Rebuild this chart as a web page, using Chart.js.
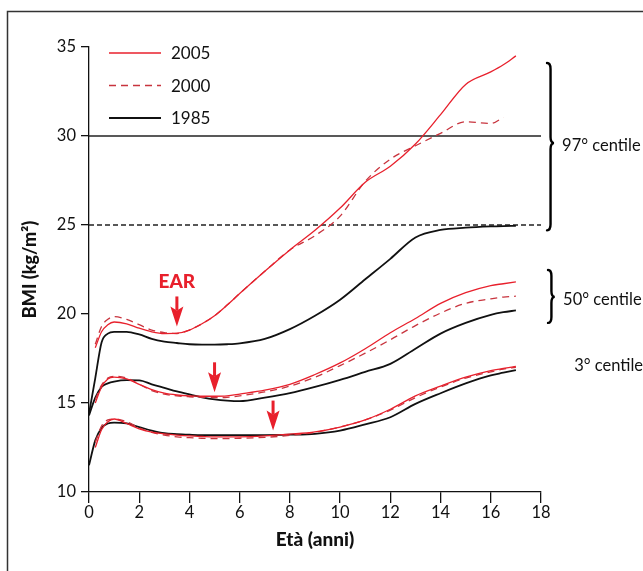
<!DOCTYPE html>
<html><head><meta charset="utf-8">
<script src="https://cdn.jsdelivr.net/npm/chart.js@4.4.0/dist/chart.umd.min.js"></script>
<style>html,body{margin:0;padding:0;background:#fff;overflow:hidden}</style>
</head><body>
<canvas id="c" width="643" height="571" style="display:block;width:643px;height:571px"></canvas>
<script>
// ---- data ----
const ages = [0, 0.25, 0.5, 0.75, 1, 1.5, 2, 2.5, 3, 3.5, 4, 4.5, 5, 5.5, 6, 7, 8, 9, 10, 11, 12, 13, 14, 15, 16, 16.5, 17];

const p97_2005 = [null, 18.1, 19.0, 19.4, 19.55, 19.45, 19.2, 19.0, 18.9, 18.92, 19.1, 19.45, 19.9, 20.5, 21.15, 22.4, 23.6, 24.7, 25.95, 27.4, 28.3, 29.55, 31.2, 32.9, 33.6, 34.0, 34.5];
const p97_2000 = [null, 18.3, 19.3, 19.7, 19.85, 19.7, 19.4, 19.1, 18.95, 18.9, 19.1, 19.45, 19.9, 20.5, 21.15, 22.4, 23.6, 24.4, 25.5, 27.45, 28.7, 29.45, 30.15, 30.8, 30.7, 31.05, null];
const p97_1985 = [14.4, 16.4, 18.4, 18.9, 19.0, 19.0, 18.85, 18.6, 18.45, 18.37, 18.3, 18.28, 18.28, 18.3, 18.35, 18.6, 19.15, 19.9, 20.8, 21.95, 23.1, 24.3, 24.72, 24.85, 24.92, 24.94, 24.95];

const p50_2005 = [null, 15.0, 15.9, 16.35, 16.45, 16.35, 16.05, 15.75, 15.55, 15.45, 15.4, 15.38, 15.38, 15.4, 15.5, 15.72, 16.05, 16.6, 17.25, 18.05, 18.95, 19.75, 20.6, 21.2, 21.6, 21.7, 21.8];
const p50_2000 = [null, 15.2, 16.0, 16.4, 16.5, 16.4, 16.05, 15.7, 15.5, 15.4, 15.35, 15.32, 15.3, 15.32, 15.4, 15.62, 15.95, 16.45, 17.1, 17.8, 18.55, 19.35, 20.05, 20.6, 20.85, 20.95, 21.0];
const p50_1985 = [14.3, 15.3, 15.9, 16.1, 16.2, 16.28, 16.27, 16.05, 15.85, 15.65, 15.48, 15.32, 15.2, 15.13, 15.1, 15.3, 15.55, 15.9, 16.3, 16.75, 17.2, 18.05, 18.9, 19.5, 19.95, 20.1, 20.2];

const p3_2005 = [null, 12.5, 13.5, 13.95, 14.1, 13.85, 13.55, 13.37, 13.27, 13.2, 13.15, 13.12, 13.1, 13.1, 13.1, 13.15, 13.25, 13.38, 13.65, 14.05, 14.65, 15.4, 15.95, 16.45, 16.82, 16.95, 17.05];
const p3_2000 = [null, 12.8, 13.7, 14.05, 14.1, 13.95, 13.6, 13.35, 13.2, 13.1, 13.05, 13.02, 13.0, 13.0, 13.02, 13.07, 13.18, 13.35, 13.65, 14.05, 14.6, 15.3, 15.9, 16.4, 16.75, 16.9, 17.0];
const p3_1985 = [11.5, 12.9, 13.6, 13.85, 13.9, 13.85, 13.65, 13.45, 13.3, 13.25, 13.22, 13.2, 13.2, 13.2, 13.2, 13.2, 13.22, 13.27, 13.45, 13.8, 14.2, 14.95, 15.55, 16.1, 16.55, 16.7, 16.85];

const refSolid = 30;   // horizontal solid line
const refDashed = 25;  // horizontal dashed line
const xTicks = [0, 2, 4, 6, 8, 10, 12, 14, 16, 18];
const yTicks = [10, 15, 20, 25, 30, 35];
const legendLabels = ['2005', '2000', '1985'];
const centileLabels = ['97° centile', '50° centile', '3° centile'];
const centileAnchors = [{x: 18.84, y: 29.45}, {x: 18.88, y: 20.8}, {x: 19.32, y: 17.08}];
const braces = [{x0: 18.24, x1: 18.52, top: 34.1, mid: 29.6, bottom: 24.7}, {x0: 18.28, x1: 18.55, top: 22.47, mid: 20.96, bottom: 19.5}];
const earLabel = 'EAR';
const earAnchor = {x: 3.5, y: 21.8};
const earArrows = [{x: 3.5, y: 19.3}, {x: 5.0, y: 15.6}, {x: 7.33, y: 13.45}];

// ---- styles ----
const RED = '#e8202c', RED_D = '#c8343e', BLK = '#111111';
const FONT = 'Lato, "Noto Sans", sans-serif';
const seriesStyle = [
  {color: RED, dash: [], width: 1.3},
  {color: RED_D, dash: [7, 5], width: 1.3},
  {color: BLK, dash: [], width: 1.8}
];

function pts(arr){ return ages.map((a,i)=>({x:a, y:arr[i]})); }
function ds(arr, s){
  return {data: pts(arr), borderColor: s.color, borderDash: s.dash, borderWidth: s.width,
    pointRadius: 0, fill: false, cubicInterpolationMode: 'monotone', spanGaps: false};
}
const datasets = [
  ds(p97_2005, seriesStyle[0]), ds(p50_2005, seriesStyle[0]), ds(p3_2005, seriesStyle[0]),
  ds(p97_2000, seriesStyle[1]), ds(p50_2000, seriesStyle[1]), ds(p3_2000, seriesStyle[1]),
  ds(p97_1985, seriesStyle[2]), ds(p50_1985, seriesStyle[2]), ds(p3_1985, seriesStyle[2]),
  {data: [{x: xTicks[0], y: refSolid}, {x: xTicks[xTicks.length-1], y: refSolid}], borderColor: '#222', borderWidth: 1.3, pointRadius: 0},
  {data: [{x: xTicks[0], y: refDashed}, {x: xTicks[xTicks.length-1], y: refDashed}], borderColor: '#222', borderWidth: 1.3, borderDash: [5, 3], pointRadius: 0}
];

function brace(ctx, x0, x1, t, m, b){
  const xm = (x0 + x1) / 2, r = Math.min(6, (m - t) / 4);
  ctx.beginPath();
  ctx.moveTo(x0, t);
  ctx.quadraticCurveTo(xm, t, xm, t + r);
  ctx.lineTo(xm, m - r);
  ctx.quadraticCurveTo(xm, m, x1, m);
  ctx.quadraticCurveTo(xm, m, xm, m + r);
  ctx.lineTo(xm, b - r);
  ctx.quadraticCurveTo(xm, b, x0, b);
  ctx.stroke();
}
function arrow(ctx, x, tip){
  const top = tip - 30, hs = tip - 18;
  ctx.fillRect(x - 1.5, top, 3, hs - top + 2);
  ctx.beginPath();
  ctx.moveTo(x, hs + 2); ctx.lineTo(x - 6.5, hs - 2); ctx.lineTo(x, tip); ctx.lineTo(x + 6.5, hs - 2);
  ctx.closePath(); ctx.fill();
}

const deco = {
  id: 'deco',
  beforeDraw(chart){
    const ctx = chart.ctx; ctx.save();
    ctx.fillStyle = '#fff'; ctx.fillRect(0, 0, chart.width, chart.height);
    ctx.strokeStyle = '#333'; ctx.lineWidth = 1.5;
    ctx.beginPath(); ctx.moveTo(7.5, chart.height); ctx.lineTo(7.5, 11.5); ctx.lineTo(chart.width, 11.5); ctx.stroke();
    ctx.restore();
  },
  afterDraw(chart){
    const ctx = chart.ctx, xs = chart.scales.x, ys = chart.scales.y, ca = chart.chartArea;
    ctx.save();
    // legend
    ctx.font = '17px ' + FONT; ctx.textBaseline = 'middle'; ctx.textAlign = 'left';
    legendLabels.forEach((lab, i) => {
      const s = seriesStyle[i], y = ca.top + 6 + i * 32.5;
      ctx.strokeStyle = s.color; ctx.lineWidth = s.width; ctx.setLineDash(s.dash);
      ctx.beginPath(); ctx.moveTo(ca.left + 20, y); ctx.lineTo(ca.left + 72, y); ctx.stroke();
      ctx.setLineDash([]); ctx.fillStyle = '#111'; ctx.fillText(lab, ca.left + 82, y + 1);
    });
    // braces
    ctx.strokeStyle = '#000'; ctx.lineWidth = 2.4; ctx.lineCap = 'round';
    braces.forEach(b => brace(ctx, xs.getPixelForValue(b.x0), xs.getPixelForValue(b.x1),
      ys.getPixelForValue(b.top), ys.getPixelForValue(b.mid), ys.getPixelForValue(b.bottom)));
    // centile labels
    ctx.font = '16.5px ' + FONT; ctx.fillStyle = '#111';
    centileLabels.forEach((lab, i) => ctx.fillText(lab, xs.getPixelForValue(centileAnchors[i].x), ys.getPixelForValue(centileAnchors[i].y)));
    // EAR
    ctx.fillStyle = RED; ctx.textAlign = 'center';
    ctx.font = '900 19px ' + FONT;
    ctx.fillText(earLabel, xs.getPixelForValue(earAnchor.x), ys.getPixelForValue(earAnchor.y));
    earArrows.forEach(a => arrow(ctx, xs.getPixelForValue(a.x), ys.getPixelForValue(a.y)));
    ctx.restore();
  }
};

new Chart(document.getElementById('c'), {
  type: 'line',
  data: {datasets},
  plugins: [deco],
  options: {
    responsive: false, animation: false, devicePixelRatio: 1,
    layout: {padding: {left: 0, top: 47, right: 102, bottom: 0}},
    plugins: {legend: {display: false}, tooltip: {enabled: false}},
    scales: {
      x: {
        type: 'linear', min: 0, max: 18,
        afterBuildTicks: s => { s.ticks = xTicks.map(v => ({value: v})); },
        afterFit: s => { s.height = 79; },
        grid: {drawOnChartArea: false, drawTicks: true, tickLength: 11, color: '#111', lineWidth: 1.3},
        border: {display: true, color: '#111', width: 1.3},
        ticks: {padding: 0, color: '#111', font: {family: FONT, size: 16.5}, maxRotation: 0, autoSkip: false},
        title: {display: true, text: 'Età (anni)', color: '#111', font: {family: FONT, size: 19, weight: 900}, padding: {top: 0, bottom: 20}}
      },
      y: {
        type: 'linear', min: 10, max: 35,
        afterBuildTicks: s => { s.ticks = yTicks.map(v => ({value: v})); },
        afterFit: s => { s.width = 89; },
        grid: {drawOnChartArea: false, drawTicks: true, tickLength: 8, color: '#111', lineWidth: 1.3},
        border: {display: true, color: '#111', width: 1.3},
        ticks: {padding: 5, color: '#111', font: {family: FONT, size: 16.5}, autoSkip: false},
        title: {display: true, text: 'BMI (kg/m²)', color: '#111', font: {family: FONT, size: 18, weight: 900}, padding: {top: 19, bottom: 0}}
      }
    }
  }
});
</script>
</body></html>
